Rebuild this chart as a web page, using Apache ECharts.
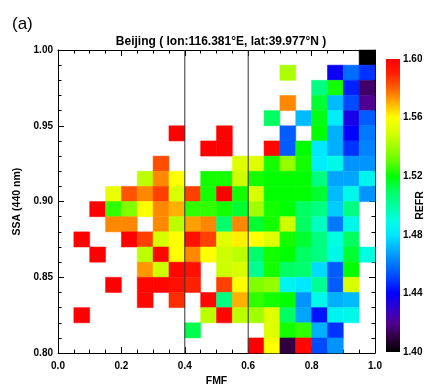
<!DOCTYPE html>
<html>
<head>
<meta charset="utf-8">
<script src="https://cdn.jsdelivr.net/npm/echarts@6/dist/echarts.min.js"></script>
<style>
  html, body { margin: 0; padding: 0; background: #fff; }
  #chart { width: 436px; height: 392px; }
</style>
</head>
<body>
<div id="chart"></div>
<script>
// FMF bin centres (bin width 0.05)
const fmfBins = [0.025, 0.075, 0.125, 0.175, 0.225, 0.275, 0.325, 0.375, 0.425, 0.475,
                 0.525, 0.575, 0.625, 0.675, 0.725, 0.775, 0.825, 0.875, 0.925, 0.975];
// SSA bin centres, top row first (bin height 0.01)
const ssaBins = [0.995, 0.985, 0.975, 0.965, 0.955, 0.945, 0.935, 0.925, 0.915, 0.905,
                 0.895, 0.885, 0.875, 0.865, 0.855, 0.845, 0.835, 0.825, 0.815, 0.805];
// Mean REFR per (SSA, FMF) bin; null = no retrievals
const _ = null;
const refrGrid = [
  [_,_,_,_,_,_,_,_,_,_, _,_,_,_,_,_,_,_,_,1.400],
  [_,_,_,_,_,_,_,_,_,_, _,_,_,_,1.542,_,_,1.438,1.458,1.448],
  [_,_,_,_,_,_,_,_,_,_, _,_,_,_,_,_,1.505,1.522,1.445,1.415],
  [_,_,_,_,_,_,_,_,_,_, _,_,_,_,1.575,_,1.515,1.472,1.452,1.420],
  [_,_,_,_,_,_,_,_,_,_, _,_,_,1.510,_,1.472,1.518,1.482,1.435,1.455],
  [_,_,_,_,_,_,_,1.600,_,_, 1.600,_,_,_,1.455,_,1.520,1.470,1.440,1.460],
  [_,_,_,_,_,_,_,_,_,1.600, 1.600,_,_,1.598,1.455,1.520,1.480,1.470,1.448,1.462],
  [_,_,_,_,_,_,1.583,_,_,_, _,1.552,1.552,1.522,1.538,1.522,1.482,1.487,1.465,1.465],
  [_,_,_,_,_,1.545,1.575,1.560,_,1.522, 1.522,1.548,1.522,1.520,1.520,1.520,1.505,1.468,1.468,1.485],
  [_,_,_,1.555,1.582,1.575,1.585,1.550,1.585,1.522, 1.600,1.522,1.550,1.520,1.520,1.520,1.515,1.472,1.487,1.465],
  [_,_,1.600,1.525,1.535,1.560,1.575,1.570,1.525,1.525, 1.522,1.515,1.540,1.522,1.520,1.510,1.505,1.475,1.505,_],
  [_,_,_,1.575,1.575,_,1.575,1.545,1.572,1.575, 1.508,1.575,1.515,1.522,1.548,1.510,1.495,1.460,1.487,_],
  [_,1.600,_,_,1.600,1.585,1.550,1.560,1.595,1.585, 1.552,1.562,1.560,1.552,1.522,1.515,1.505,1.490,1.510,_],
  [_,_,1.600,_,_,1.545,1.598,1.560,1.575,1.560, 1.548,1.545,1.508,1.522,1.520,1.510,1.505,1.487,1.515,1.490],
  [_,_,_,_,_,1.573,1.548,1.598,1.595,_, 1.548,1.550,1.502,1.522,1.510,1.508,1.478,1.455,1.520,_],
  [_,_,_,1.600,_,1.598,1.598,1.595,1.590,_, 1.585,1.560,1.535,1.538,1.485,1.480,1.502,1.455,1.550,_],
  [_,_,_,_,_,1.598,_,1.588,_,1.598, 1.505,1.570,1.525,1.522,1.520,1.465,1.487,1.470,1.472,_],
  [_,1.600,_,_,_,_,_,_,_,1.545, 1.598,1.545,1.540,1.552,1.510,1.468,1.443,1.485,1.487,_],
  [_,_,_,_,_,_,_,_,1.512,_, _,_,_,1.552,1.522,1.525,1.470,1.448,_,_],
  [_,_,_,_,_,_,_,_,_,_, _,_,1.600,1.560,1.410,1.598,1.452,1.465,_,_]
];
const fmfTickLabels = ['0.0', '0.2', '0.4', '0.6', '0.8', '1.0'];
const ssaTickLabels = ['0.80', '0.85', '0.90', '0.95', '1.00'];
const refrTickLabels = ['1.40', '1.44', '1.48', '1.52', '1.56', '1.60'];
// FMF class boundaries drawn as vertical lines
const fmfBounds = [0.4, 0.6];
// Rainbow colour table, 1.40 -> 1.60 in steps of 0.01
const refrPalette = ['#000000', '#300040', '#500090', '#3000d0', '#0000ff', '#0040ff', '#0078ff',
  '#00b0ff', '#00e8ff', '#00ffe0', '#00ffa0', '#00ff60', '#00ff00', '#60ff00', '#a0ff00',
  '#d8ff00', '#ffff00', '#ffb000', '#ff6000', '#ff2000', '#ff0000'];

const binW = 0.05, binH = 0.01;
const refrMin = 1.40, refrMax = 1.60;

const cells = [];
refrGrid.forEach((row, i) => row.forEach((v, j) => {
  if (v !== null) cells.push([fmfBins[j], ssaBins[i], v]);
}));

const font = "'Liberation Sans', Arial, Helvetica, sans-serif";
const lblStyle = { color: '#000', fontFamily: font, fontWeight: 'bold', fontSize: 10 };

function pickLabel(list, digits) {
  return v => {
    const s = Number(v).toFixed(digits);
    return list.indexOf(s) >= 0 ? s : '';
  };
}

function renderCell(params, api) {
  const x = api.value(0), y = api.value(1);
  const p0 = api.coord([x - binW / 2, y + binH / 2]);
  const p1 = api.coord([x + binW / 2, y - binH / 2]);
  const c = api.visual('color');
  return {
    type: 'rect',
    shape: { x: p0[0], y: p0[1], width: p1[0] - p0[0], height: p1[1] - p0[1] },
    style: { fill: c, stroke: c, lineWidth: 0.5 }
  };
}

function renderBar(params, api) {
  const p0 = api.coord([0, api.value(2)]);
  const p1 = api.coord([1, api.value(1)]);
  const stops = refrPalette.map((c, k) => ({ offset: k / (refrPalette.length - 1), color: c }));
  return {
    type: 'rect',
    shape: { x: p0[0], y: p0[1], width: p1[0] - p0[0], height: p1[1] - p0[1] },
    style: { fill: new echarts.graphic.LinearGradient(0, 1, 0, 0, stops) }
  };
}

const frameAxis = {
  type: 'value',
  axisLine: { show: true, onZero: false, lineStyle: { color: '#000', width: 1 } },
  axisTick: { show: true, inside: true, length: 6, lineStyle: { color: '#000' } },
  minorTick: { show: true, length: 3.5, lineStyle: { color: '#000' } },
  splitLine: { show: false },
  minorSplitLine: { show: false }
};

const chart = echarts.init(document.getElementById('chart'), null, { renderer: 'canvas' });
chart.setOption({
  animation: false,
  backgroundColor: '#fff',
  title: [
    { text: '(a)', left: 7, top: 11, textStyle: { fontFamily: font, fontWeight: 'normal', fontSize: 17, color: '#000' } },
    { text: 'Beijing ( lon:116.381°E, lat:39.977°N )', left: 216, top: 31, textAlign: 'center',
      textStyle: { fontFamily: font, fontWeight: 'bold', fontSize: 12, color: '#000' } }
  ],
  grid: [
    { left: 58, right: 61, top: 50, bottom: 30 },
    { left: 386, width: 14, top: 59, bottom: 40 }
  ],
  visualMap: {
    show: false, type: 'continuous', min: refrMin, max: refrMax,
    dimension: 2, seriesIndex: 0, inRange: { color: refrPalette }
  },
  xAxis: [
    Object.assign({}, frameAxis, {
      gridIndex: 0, min: 0, max: 1, interval: 0.2, position: 'bottom',
      minorTick: Object.assign({}, frameAxis.minorTick, { splitNumber: 4 }),
      axisLabel: Object.assign({}, lblStyle, { margin: 8, formatter: pickLabel(fmfTickLabels, 1) }),
      name: 'FMF', nameLocation: 'middle', nameGap: 21,
      nameTextStyle: Object.assign({}, lblStyle, { fontSize: 10.5 })
    }),
    Object.assign({}, frameAxis, {
      gridIndex: 0, min: 0, max: 1, interval: 0.2, position: 'top',
      minorTick: Object.assign({}, frameAxis.minorTick, { splitNumber: 4 }),
      axisLabel: { show: false }
    }),
    { gridIndex: 1, type: 'value', min: 0, max: 1, show: false }
  ],
  yAxis: [
    Object.assign({}, frameAxis, {
      gridIndex: 0, min: 0.8, max: 1.0, interval: 0.05, position: 'left',
      minorTick: Object.assign({}, frameAxis.minorTick, { splitNumber: 5 }),
      axisLabel: Object.assign({}, lblStyle, { margin: 5, formatter: pickLabel(ssaTickLabels, 2) }),
      name: 'SSA (440 nm)', nameLocation: 'middle', nameGap: 35, nameRotate: 90,
      nameTextStyle: Object.assign({}, lblStyle, { fontSize: 10.5 })
    }),
    Object.assign({}, frameAxis, {
      gridIndex: 0, min: 0.8, max: 1.0, interval: 0.05, position: 'right',
      minorTick: Object.assign({}, frameAxis.minorTick, { splitNumber: 5 }),
      axisLabel: { show: false }
    }),
    {
      gridIndex: 1, type: 'value', min: refrMin, max: refrMax, interval: 0.04, position: 'right',
      axisLine: { show: false }, axisTick: { show: false }, splitLine: { show: false },
      axisLabel: Object.assign({}, lblStyle, { margin: 3, formatter: pickLabel(refrTickLabels, 2) }),
      name: 'REFR', nameLocation: 'middle', nameGap: 15, nameRotate: 90, nameMoveOverlap: false,
      nameTextStyle: Object.assign({}, lblStyle, { fontSize: 10.5 })
    }
  ],
  series: [
    {
      type: 'custom', xAxisIndex: 0, yAxisIndex: 0, renderItem: renderCell,
      encode: { x: 0, y: 1 }, data: cells, z: 2, silent: true
    },
    ...fmfBounds.map(b => ({
      type: 'line', xAxisIndex: 0, yAxisIndex: 0, symbol: 'none', silent: true, z: 5,
      lineStyle: { color: '#333', width: 1 }, data: [[b, 0.8], [b, 1.0]]
    })),
    {
      type: 'custom', xAxisIndex: 2, yAxisIndex: 2, renderItem: renderBar,
      encode: { y: [1, 2] }, data: [[0, refrMin, refrMax]], silent: true
    }
  ]
});
</script>
</body>
</html>
